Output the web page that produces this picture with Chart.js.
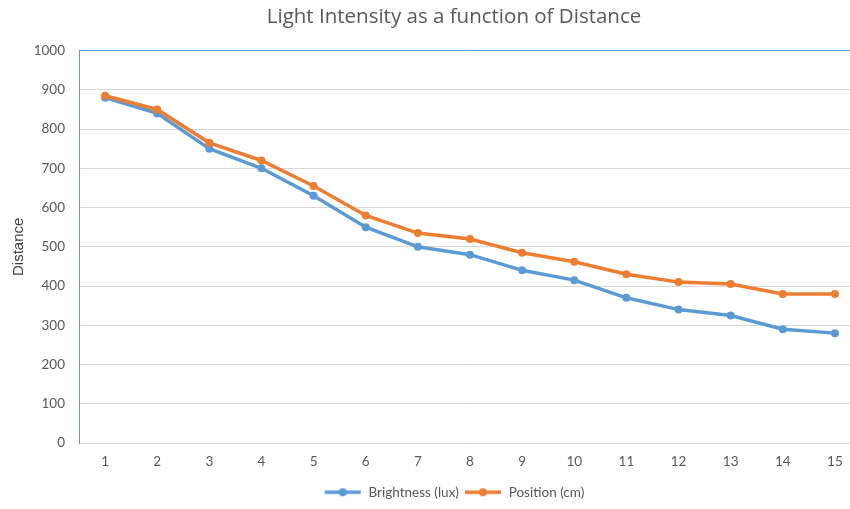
<!DOCTYPE html>
<html>
<head>
<meta charset="utf-8">
<script src="https://cdn.jsdelivr.net/npm/chart.js@4"></script>
<style>
  html, body { margin: 0; padding: 0; background: #fff; overflow: hidden; }
  #wrap { width: 904px; height: 509px; }
</style>
</head>
<body>
<div id="wrap"><canvas id="chart"></canvas></div>
<script>
// Distance steps along the x axis
const categories = ['1', '2', '3', '4', '5', '6', '7', '8', '9', '10', '11', '12', '13', '14', '15'];
// Series
const brightness = [880, 840, 750, 700, 630, 550, 500, 480, 440, 415, 370, 340, 325, 290, 280];
const position = [885, 850, 765, 720, 655, 580, 535, 520, 485, 462, 430, 410, 405, 380, 380];
const yTicks = [0, 100, 200, 300, 400, 500, 600, 700, 800, 900, 1000];

const BLUE = '#5B9BD5';
const ORANGE = '#ED7D31';
const tickFont = { family: "Lato, 'Open Sans', sans-serif", size: 13.5 };

// small line-with-dot icon for the legend, like Excel's
function legendIcon(color) {
  const c = document.createElement('canvas');
  c.width = 38;
  c.height = 12;
  const ctx = c.getContext('2d');
  ctx.strokeStyle = color;
  ctx.lineWidth = 3.5;
  ctx.beginPath();
  ctx.moveTo(1, 6);
  ctx.lineTo(37, 6);
  ctx.stroke();
  ctx.fillStyle = color;
  ctx.beginPath();
  ctx.arc(19, 6, 4, 0, Math.PI * 2);
  ctx.fill();
  return c;
}
const icons = [legendIcon(BLUE), legendIcon(ORANGE)];

const ctx = document.getElementById('chart').getContext('2d');
const chart = new Chart(ctx, {
  type: 'line',
  data: {
    labels: categories,
    datasets: [
      {
        label: 'Brightness (lux)',
        data: brightness,
        borderColor: BLUE,
        backgroundColor: BLUE,
        borderWidth: 3.5,
        pointRadius: 4,
        pointBorderWidth: 0,
        pointBackgroundColor: BLUE,
        tension: 0,
        order: 1,
      },
      {
        label: 'Position (cm)',
        data: position,
        borderColor: ORANGE,
        backgroundColor: ORANGE,
        borderWidth: 3.5,
        pointRadius: 4,
        pointBorderWidth: 0,
        pointBackgroundColor: ORANGE,
        tension: 0,
        order: 0,
      },
    ],
  },
  options: {
    responsive: true,
    maintainAspectRatio: false,
    animation: false,
    layout: { padding: { left: 4, right: 0, top: 0, bottom: 0 } },
    plugins: {
      title: {
        display: true,
        text: 'Light Intensity as a function of Distance',
        color: '#595959',
        font: { family: "'Open Sans', sans-serif", size: 20.5, weight: 'normal' },
        padding: { top: 5, bottom: 21 },
      },
      legend: {
        position: 'bottom',
        labels: {
          color: '#595959',
          font: tickFont,
          usePointStyle: true,
          pointStyleWidth: 38,
          padding: 5,
          generateLabels: function (chart) {
            const items = Chart.defaults.plugins.legend.labels.generateLabels(chart);
            items.sort((a, b) => a.datasetIndex - b.datasetIndex);
            items.forEach((it) => { it.pointStyle = icons[it.datasetIndex]; });
            return items;
          },
        },
      },
      tooltip: { enabled: false },
    },
    scales: {
      x: {
        offset: true,
        grid: { display: false, drawTicks: false },
        border: { color: '#d9d9d9', width: 1 },
        ticks: { color: '#595959', font: { ...tickFont, lineHeight: 1 }, padding: 12 },
      },
      y: {
        min: 0,
        max: 1000,
        afterBuildTicks: (s) => { s.ticks = yTicks.map((v) => ({ value: v })); },
        afterFit: (s) => { s.width = 75; },
        grid: {
          drawTicks: false,
          color: (c) => (c.tick && c.tick.value === 1000 ? BLUE : '#d9d9d9'),
        },
        border: { color: BLUE, width: 1 },
        ticks: { color: '#595959', font: tickFont, padding: 14, callback: (v) => String(v) },
        title: {
          display: true,
          text: 'Distance',
          color: '#404040',
          font: { family: "'Liberation Sans', Arial, sans-serif", size: 15 },
          padding: { top: 6, bottom: 0 },
        },
      },
      // empty right-hand axis: the reference is cropped, plot runs past the edge
      yRight: {
        position: 'right',
        display: true,
        afterFit: (s) => { s.width = 43; },
        grid: { display: false, drawTicks: false },
        border: { display: false },
        ticks: { display: false },
      },
    },
  },
});
</script>
</body>
</html>
